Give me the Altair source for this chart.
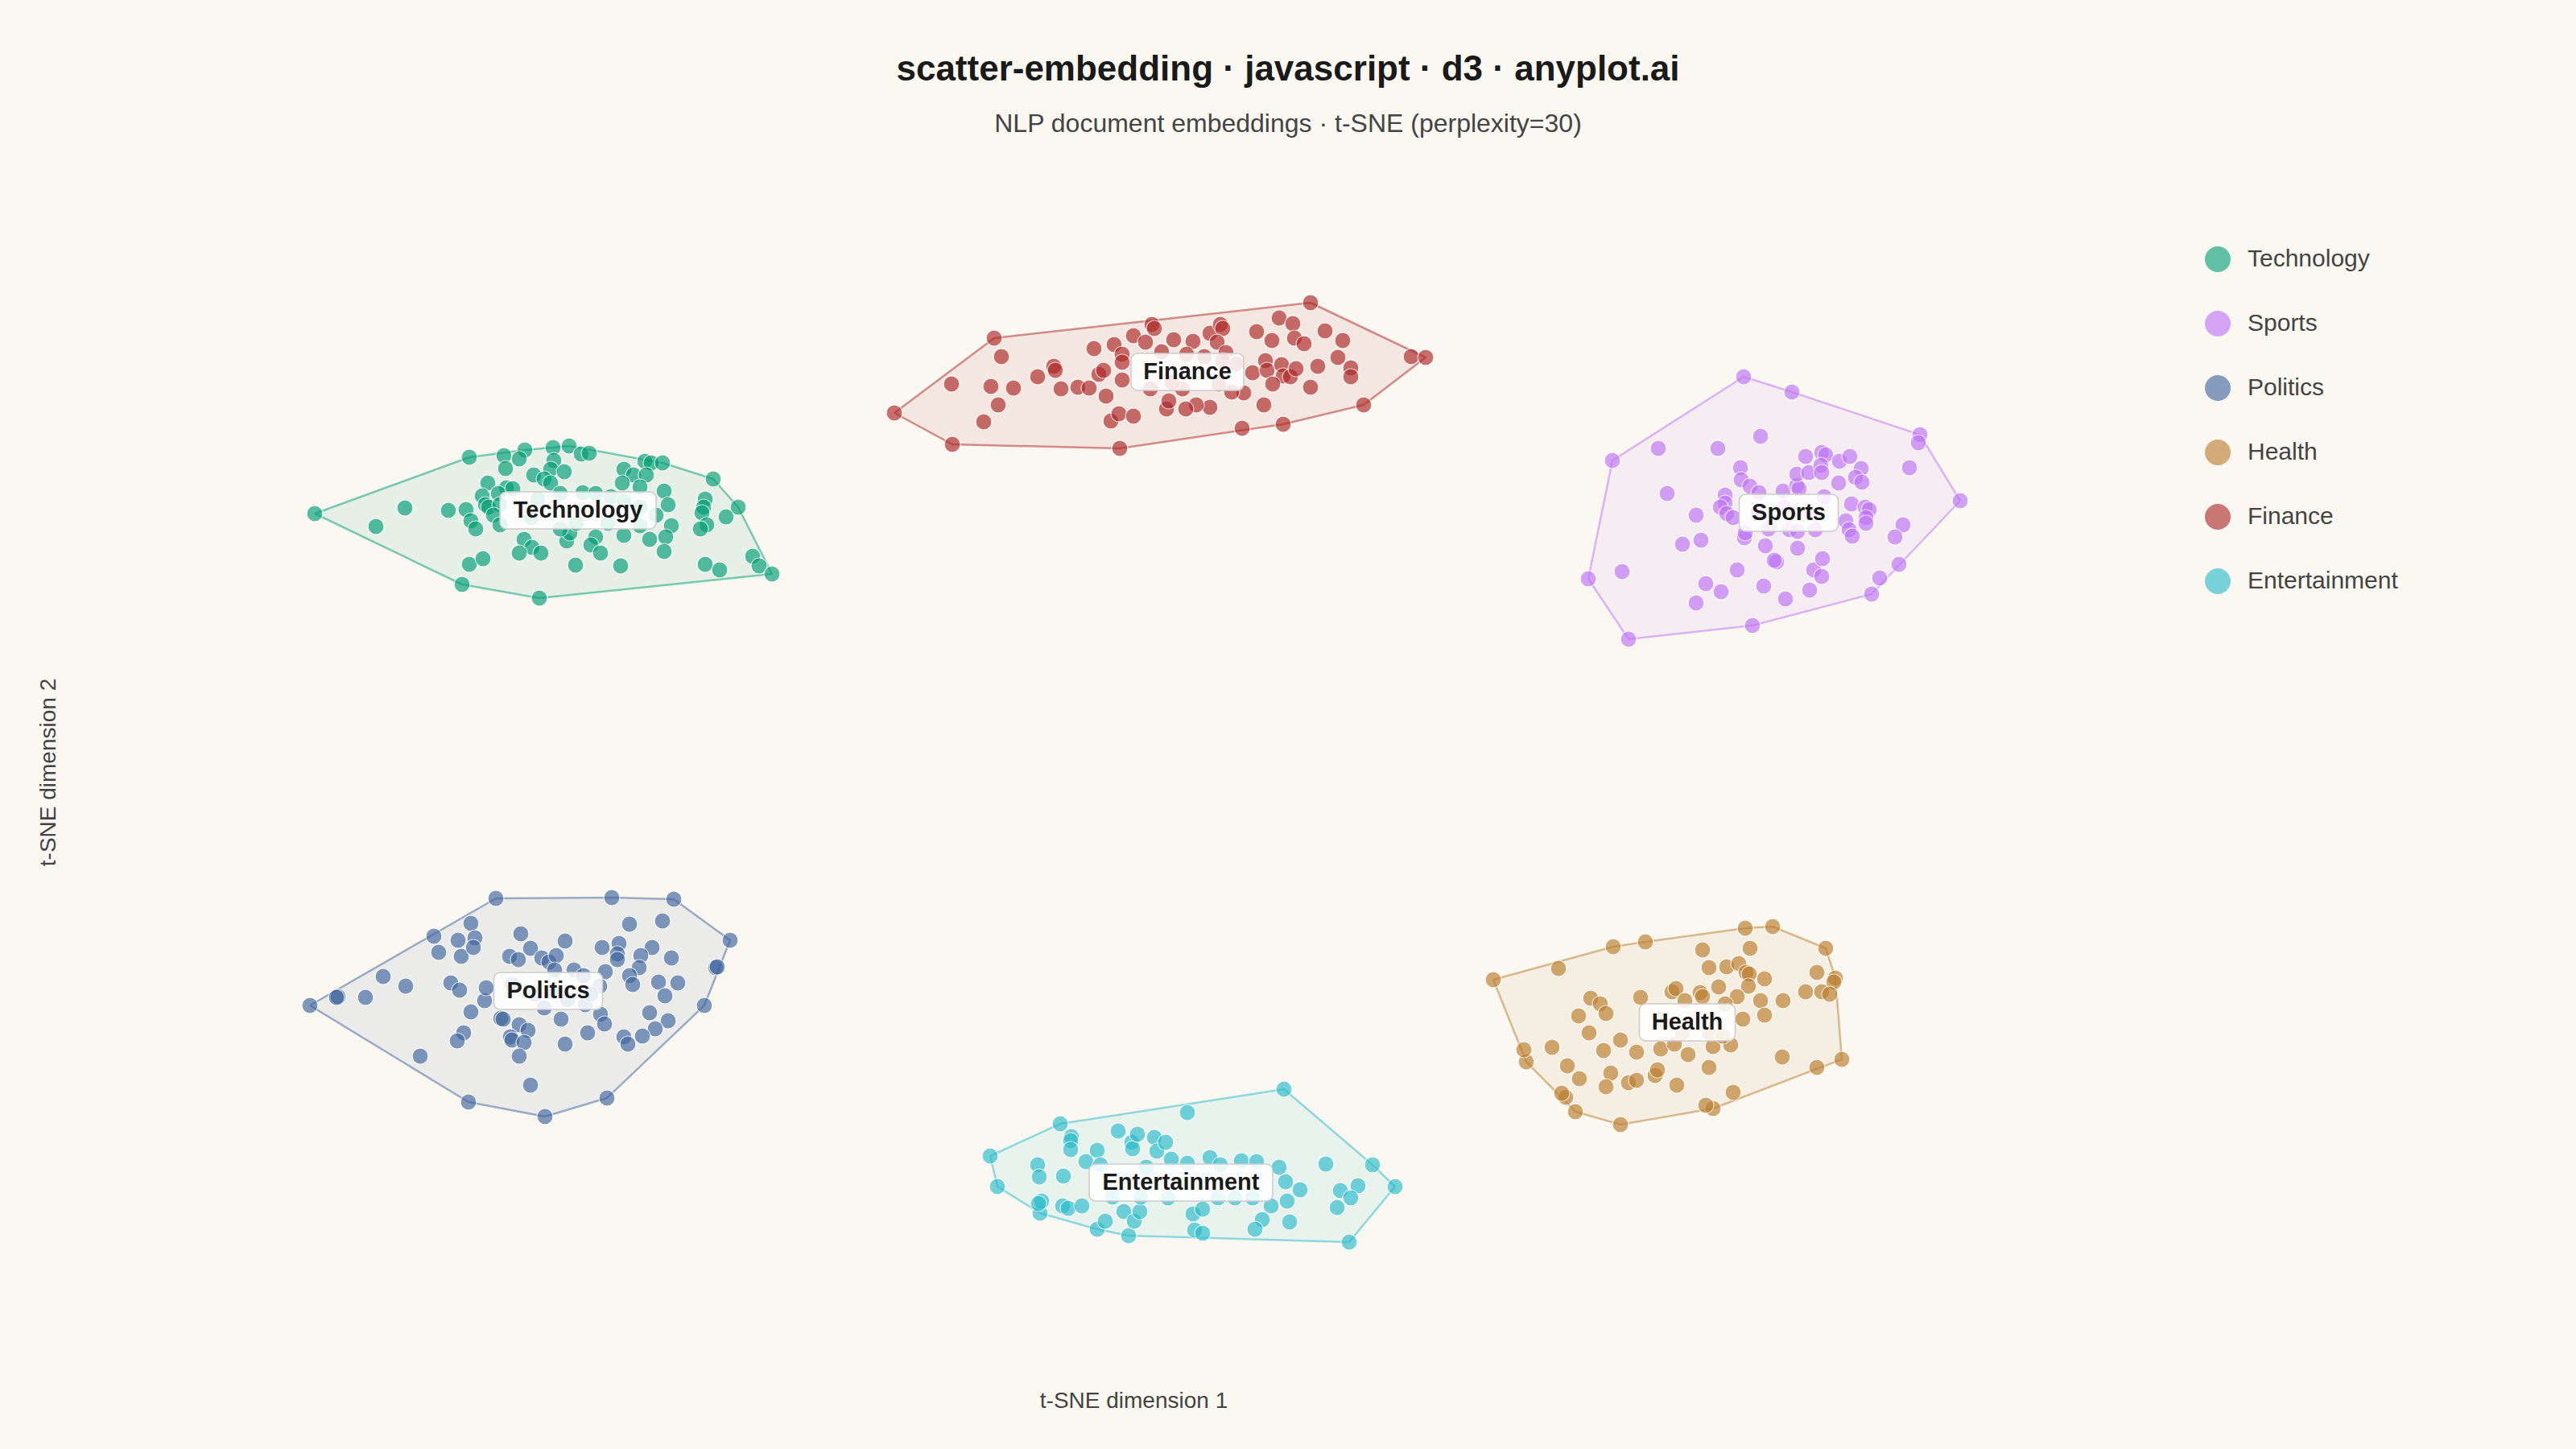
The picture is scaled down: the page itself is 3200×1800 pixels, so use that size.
import altair as alt
import pandas as pd

# ---------------- data ----------------
categories = ["Technology", "Sports", "Politics", "Health", "Finance", "Entertainment"]
colors = ["#009E73", "#BE73F7", "#3F649E", "#BB7D2D", "#AD2626", "#2ABBCA"]

tech_x = [-100.9,-93.3,-89.7,-84.3,-82.1,-81.7,-77.4,-74.8,-75.5,-77.2,-71.3,-69.3,-67.8,-66.8,-71.2,-71.6,-69.9,-73.7,-72.4,-71.6,-79.4,-77.1,-76.3,-78.1,-80.1,-79.7,-79.3,-77.9,-78.7,-81.5,-80.9,-77.9,-62.5,-61.3,-59.9,-59.1,-57.7,-59.7,-62.7,-60.5,-57.5,-57.0,-51.4,-52.4,-52.6,-52.8,-48.3,-49.8,-52.2,-53.0,-56.6,-57.3,-59.3,-57.5,-62.5,-66.0,-66.6,-65.4,-69.6,-69.2,-70.4,-74.9,-73.9,-72.8,-75.5,-81.7,-80.0,-82.6,-73.0,-68.5,-62.9,-52.4,-50.6,-46.5,-45.7,-44.1,-73.2,-70.4,-67.6,-66.0,-64.1,-62.5,-60.5,-58.5,-60.5,-64.5,-68.4,-74.0]
tech_y = [32.2,30.6,32.9,32.6,32.7,39.2,39.4,40.1,39.0,37.8,40.4,40.6,39.6,39.7,38.8,37.7,37.4,37.0,36.5,36.0,36.0,35.4,35.3,34.7,34.4,33.3,33.0,33.3,32.0,31.3,30.3,30.8,37.7,37.0,38.7,38.5,38.5,37.0,36.0,35.5,35.0,33.3,36.5,34.0,33.0,32.3,33.0,31.8,30.8,30.3,30.7,29.3,29.0,27.5,29.5,29.3,28.3,27.3,28.8,29.8,30.3,29.0,28.0,27.3,27.3,25.9,26.6,23.4,21.7,25.8,25.7,25.9,25.2,26.9,25.7,24.7,34.0,34.7,34.8,34.7,34.3,33.7,33.0,32.0,30.7,31.0,31.0,31.7]

sports_x = [76.6,82.6,98.5,98.3,103.5,95.9,93.5,92.5,77.7,62.3,57.3,60.3,66.0,73.4,78.7,67.1,70.7,71.3,69.0,61.5,71.9,73.8,70.7,75.8,79.1,81.8,84.8,85.3,86.3,86.4,80.7,80.4,79.3,83.3,76.7,76.8,76.2,76.3,77.4,78.5,74.3,74.3,73.7,74.5,75.3,81.5,83.2,83.5,83.2,84.3,84.7,86.3,86.8,86.2,86.3,88.5,89.8,91.2,90.5,91.3,88.4,90.0,91.7,92.2,91.8,91.8,89.3,89.7,90.1,96.4,95.4,97.2,86.6,79.7,82.3,85.5,83.3,78.3,81.7,85.0]
sports_y = [49.2,47.3,42.0,41.0,33.8,25.9,24.2,22.2,18.3,16.6,24.1,38.8,40.3,40.3,41.8,34.7,32.0,28.9,28.4,25.0,23.5,22.5,21.1,25.2,23.2,21.6,22.7,25.2,24.4,26.6,26.2,26.4,28.2,27.9,29.2,29.8,37.9,36.4,35.6,34.8,34.5,33.5,33.0,32.2,31.7,35.0,35.7,35.3,37.1,39.3,37.3,39.8,39.5,38.2,37.3,38.7,39.3,37.8,36.7,36.1,36.0,33.4,33.0,32.7,31.7,31.0,31.3,30.2,29.4,30.8,29.3,37.9,34.3,30.3,30.2,30.2,30.0,32.3,33.0,32.3]

politics_x = [-101.5,-98.0,-98.2,-94.6,-92.4,-89.6,-87.8,-81.8,-72.3,-64.6,-52.5,-51.1,-50.9,-49.3,-56.3,-64.0,-78.4,-86.1,-85.5,-83.1,-82.7,-81.5,-81.0,-81.2,-84.0,-82.9,-81.5,-82.4,-83.2,-79.8,-79.6,-75.3,-74.1,-76.7,-75.6,-72.7,-71.8,-70.9,-71.1,-69.8,-68.7,-67.5,-65.2,-63.1,-63.3,-63.3,-64.8,-65.5,-61.8,-57.7,-59.0,-60.4,-60.6,-61.8,-61.4,-56.6,-58.2,-55.8,-57.4,-59.3,-57.0,-58.6,-60.2,-62.5,-62.0,-67.0,-65.4,-64.9,-69.8,-70.3,-72.4,-77.8,-77.5,-75.5,-74.4,-76.6,-76.4,-74.9,-75.5,-74.1,-76.4,-73.5,-69.5,-67.3,-66.6,-71.3]
politics_y = [-28.9,-27.8,-27.9,-27.9,-25.3,-26.5,-35.2,-40.9,-42.7,-40.4,-28.9,-24.2,-24.1,-20.8,-15.7,-15.5,-15.6,-20.3,-22.3,-20.8,-22.8,-18.7,-20.5,-21.7,-26.1,-27.0,-29.7,-32.3,-33.3,-28.3,-26.7,-20.0,-21.8,-22.8,-23.2,-23.0,-23.5,-22.7,-24.5,-20.9,-24.5,-25.2,-21.7,-21.2,-22.5,-23.2,-24.7,-26.5,-18.8,-18.4,-21.7,-22.7,-24.2,-25.2,-26.3,-23.0,-26.0,-26.1,-27.7,-29.8,-30.8,-31.8,-32.7,-32.8,-33.7,-32.3,-30.0,-31.2,-33.7,-30.6,-29.2,-30.5,-30.6,-31.3,-32.0,-32.8,-33.2,-33.5,-35.2,-38.8,-26.2,-27.5,-28.2,-28.8,-27.5,-27.2]

health_x = [45.5,53.6,60.4,64.4,76.8,80.2,86.8,88.0,87.8,88.8,85.7,75.3,72.8,71.9,61.3,55.7,54.5,54.0,49.6,49.3,52.8,54.7,56.2,57.6,58.8,59.5,56.1,57.4,59.2,61.3,60.1,59.5,62.3,63.3,65.6,65.9,63.3,63.8,66.3,68.0,68.3,69.7,72.3,72.8,75.0,67.7,68.2,69.3,71.2,71.5,73.5,71.5,72.3,74.5,76.0,76.9,77.3,77.4,79.2,77.2,75.8,78.7,79.2,76.5,81.5,81.4,84.3,85.7,86.3,87.3,74.3,66.3,69.0,72.3,74.0]
health_y = [-25.7,-24.3,-21.6,-21.0,-19.3,-19.1,-21.8,-25.5,-26.0,-35.6,-36.6,-39.7,-41.7,-41.3,-43.7,-42.1,-40.3,-39.8,-35.9,-34.4,-34.1,-36.4,-38.0,-28.0,-28.7,-29.9,-30.2,-32.3,-34.5,-33.2,-37.3,-39.0,-38.5,-38.2,-37.6,-36.9,-34.7,-27.9,-34.3,-33.7,-38.8,-35.0,-36.6,-34.0,-33.8,-27.2,-26.8,-28.3,-27.3,-27.8,-26.6,-22.0,-24.2,-24.1,-23.7,-24.8,-25.0,-21.8,-25.6,-26.5,-27.8,-28.3,-30.1,-30.6,-28.3,-35.3,-27.2,-24.8,-27.2,-27.5,-28.7,-30.7,-32.3,-32.3,-32.7]

finance_x = [-28.9,-21.8,-21.7,-16.5,-15.6,-16.9,-14.1,-16.0,-17.8,-11.1,-9.1,-8.9,-8.2,-6.1,-4.7,-4.1,-3.5,-2.9,-2.6,-1.6,-0.6,-0.6,-0.6,-2.0,-1.0,0.8,-0.9,0.8,2.3,3.1,3.4,4.3,5.8,8.2,10.3,11.6,11.9,11.2,12.3,16.1,18.0,18.9,20.6,20.8,22.0,22.8,24.6,26.8,26.2,27.8,27.8,23.7,22.8,35.3,37.1,29.4,19.4,14.3,17.0,15.6,17.2,17.4,19.2,19.4,20.3,21.0,18.1,14.5,13.0,10.3,8.6,7.3,4.9,5.2,2.9,6.9,7.4,9.6,11.9,13.6,5.6,11.4]
finance_y = [44.7,48.3,40.8,54.0,51.7,48.0,47.8,45.7,43.6,49.2,50.5,50.0,47.7,47.9,47.8,52.7,49.5,50.0,46.8,53.2,52.0,51.0,48.8,43.7,44.6,44.3,40.3,54.3,53.5,55.7,55.2,52.3,53.8,53.6,54.6,55.7,55.2,53.5,52.2,54.8,53.7,56.5,55.8,54.0,53.3,58.4,54.9,53.7,51.6,50.3,49.2,50.5,47.9,51.7,51.6,45.7,43.3,42.8,45.7,49.7,51.2,50.0,50.7,49.3,49.2,50.2,48.3,47.2,47.3,45.4,45.7,45.2,45.2,46.2,47.7,47.7,52.0,51.7,51.2,50.8,48.5,48.3]

ent_x = [-17.0,-16.1,-10.8,-10.6,-11.0,-11.1,-10.9,-8.3,-6.9,-7.0,-7.0,-7.9,-8.0,-7.3,-5.6,-5.1,-3.7,-3.3,-3.7,-2.7,-0.4,0.2,0.9,1.6,-1.1,0.6,0.7,1.3,3.4,3.7,4.8,5.5,7.5,7.5,8.2,8.4,9.4,9.4,10.3,11.6,14.2,16.1,15.6,16.8,15.9,17.9,18.9,19.7,19.9,20.2,21.5,19.5,24.7,30.5,33.3,28.7,26.5,27.8,26.1,27.6,1.7,11.3,5.1,2.4,13.4,-1.8]
ent_y = [-47.6,-51.4,-54.7,-53.2,-53.5,-48.7,-50.2,-43.6,-45.2,-45.7,-46.8,-50.1,-53.8,-54.1,-53.8,-48.3,-46.9,-48.7,-56.7,-55.7,-54.5,-57.5,-55.7,-54.5,-44.5,-45.9,-46.7,-44.9,-45.3,-47.0,-45.9,-48.0,-42.2,-48.5,-54.8,-56.8,-57.2,-54.2,-47.8,-48.7,-48.2,-48.3,-52.8,-55.5,-56.7,-53.8,-49.0,-50.8,-53.2,-55.8,-51.8,-39.3,-48.6,-48.7,-51.4,-51.3,-51.9,-52.8,-54.0,-58.3,-52.7,-52.8,-52.8,-49.0,-52.8,-52.7]

label_x = [-68.2, 82.2, -71.9, 69.6, 7.5, 6.7]
label_y = [32.6, 32.3, -27.1, -31.0, 49.8, -50.9]

# ---------------- tables ----------------
series = {
    "Technology": (tech_x, tech_y),
    "Sports": (sports_x, sports_y),
    "Politics": (politics_x, politics_y),
    "Health": (health_x, health_y),
    "Finance": (finance_x, finance_y),
    "Entertainment": (ent_x, ent_y),
}

rows = []
for cat, (xs, ys) in series.items():
    for a, b in zip(xs, ys):
        rows.append({"category": cat, "x": a, "y": b})
points = pd.DataFrame(rows)


def convex_hull(pts):
    pts = sorted(set(pts))
    if len(pts) < 3:
        return pts

    def cross(o, a, b):
        return (a[0] - o[0]) * (b[1] - o[1]) - (a[1] - o[1]) * (b[0] - o[0])

    lower, upper = [], []
    for p in pts:
        while len(lower) >= 2 and cross(lower[-2], lower[-1], p) <= 0:
            lower.pop()
        lower.append(p)
    for p in reversed(pts):
        while len(upper) >= 2 and cross(upper[-2], upper[-1], p) <= 0:
            upper.pop()
        upper.append(p)
    return lower[:-1] + upper[:-1]


hull_rows = []
for cat, (xs, ys) in series.items():
    h = convex_hull(list(zip(xs, ys)))
    h = h + [h[0]]
    for i, (a, b) in enumerate(h):
        hull_rows.append({"category": cat, "x": a, "y": b, "order": i})
hulls = pd.DataFrame(hull_rows)

labels = pd.DataFrame({"category": categories, "x": label_x, "y": label_y})
box_widths = [194, 123, 135, 119, 140, 228]

# ---------------- chart ----------------
FONT = "Liberation Sans"
BG = "#FAF8F1"
x_scale = alt.Scale(domain=[-129, 130.6], nice=False, zero=False)
y_scale = alt.Scale(domain=[-73.8, 74], nice=False, zero=False)
x_axis = alt.Axis(labels=False, ticks=False, domain=False, grid=False,
                  title="t-SNE dimension 1", titleFontSize=28, titleFont=FONT,
                  titleFontWeight="normal", titleColor="#444444", titlePadding=28)
y_axis = alt.Axis(labels=False, ticks=False, domain=False, grid=False,
                  title="t-SNE dimension 2", titleFontSize=28, titleFont=FONT,
                  titleFontWeight="normal", titleColor="#444444", titlePadding=36)
X = alt.X("x:Q", scale=x_scale, axis=x_axis)
Y = alt.Y("y:Q", scale=y_scale, axis=y_axis)

layers = []
for cat, col in zip(categories, colors):
    layers.append(
        alt.Chart(hulls[hulls.category == cat])
        .mark_line(stroke=col, strokeWidth=2.5, strokeOpacity=0.5,
                   fill=col, fillOpacity=0.08, strokeJoin="round")
        .encode(x=X, y=Y, order="order:Q")
    )

layers.append(
    alt.Chart(points)
    .mark_circle(size=400, opacity=0.65, stroke="white", strokeWidth=1.2)
    .encode(
        x=X, y=Y,
        color=alt.Color(
            "category:N",
            scale=alt.Scale(domain=categories, range=colors),
            legend=alt.Legend(
                title=None, orient="none", legendX=2629, legendY=86,
                symbolType="circle", symbolSize=1024, symbolOpacity=0.62,
                symbolStrokeWidth=0, labelFontSize=30, labelFont=FONT,
                labelColor="#444444", labelOffset=21, rowPadding=48,
                padding=0, labelLimit=400,
            ),
        ),
    )
)

for i, cat in enumerate(categories):
    layers.append(
        alt.Chart(labels[labels.category == cat])
        .mark_rect(width=box_widths[i], height=46, cornerRadius=8, fill="white",
                   fillOpacity=0.85, stroke="#cccccc", strokeWidth=1.5)
        .encode(x=X, y=Y)
    )

layers.append(
    alt.Chart(labels)
    .mark_text(fontSize=29, fontWeight="bold", font=FONT, color="#1a1a1a")
    .encode(x=X, y=Y, text="category:N")
)

chart = (
    alt.layer(*layers)
    .properties(
        width=2596, height=1478,
        padding={"left": 102, "top": 212, "right": 486, "bottom": 94},
        autosize=alt.AutoSizeParams(type="none"),
        title=alt.TitleParams(
            text="scatter-embedding · javascript · d3 · anyplot.ai",
            subtitle="NLP document embeddings · t-SNE (perplexity=30)",
            fontSize=44, font=FONT, fontWeight="bold", color="#1a1a1a",
            subtitleFontSize=32, subtitleFont=FONT, subtitleColor="#444444",
            subtitlePadding=30, anchor="middle", dx=192, offset=50,
        ),
    )
    .configure(background=BG)
    .configure_view(stroke=None)
)

# give the page itself (its 8px margin) the same background as the chart
_STYLE = "<style>html, body { background: " + BG + "; }</style>"


class _BgTemplate:
    def __init__(self, inner):
        self._inner = inner

    def render(self, *args, **kwargs):
        html = self._inner.render(*args, **kwargs)
        if "</head>" in html:
            return html.replace("</head>", _STYLE + "\n</head>", 1)
        return _STYLE + "\n" + html

    def __getattr__(self, name):
        return getattr(self._inner, name)


try:
    import altair.utils.html as _alt_html

    for _k in list(_alt_html.TEMPLATES.keys()):
        _alt_html.TEMPLATES[_k] = _BgTemplate(_alt_html.TEMPLATES[_k])
except Exception:
    pass

chart.save("out.html", embed_options={"renderer": "svg", "actions": False})
